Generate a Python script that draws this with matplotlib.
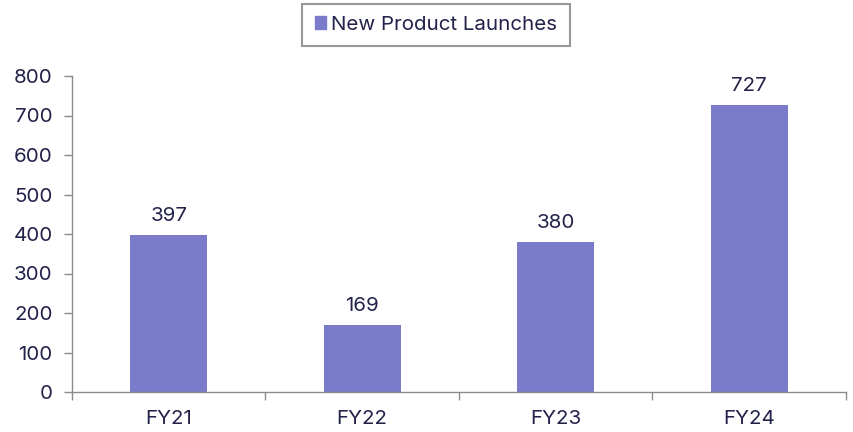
import matplotlib
matplotlib.use("Agg")
import matplotlib.pyplot as plt
from matplotlib.patches import Patch

categories = ["FY21", "FY22", "FY23", "FY24"]
values = [397, 169, 380, 727]
series_name = "New Product Launches"

plt.rcParams['font.family'] = ['Inter', 'DejaVu Sans']
txt = "#22224a"
bar_color = "#7b7bcc"
axis_color = "#8c8c8c"
fs = 14.8

fig = plt.figure(figsize=(8.54, 4.32), dpi=100)
ax = fig.add_axes([72/854, 1-392/432, (846-72)/854, (392-76)/432])

x = list(range(len(categories)))
bars = ax.bar(x, values, width=0.4, color=bar_color, zorder=2)
for xi, v in zip(x, values):
    ax.text(xi, v + 26, str(v), ha="center", va="bottom", fontsize=fs, color=txt)

ax.set_xlim(-0.5, len(categories) - 0.5)
ax.set_ylim(0, 800)
ax.set_yticks(range(0, 801, 100))
ax.set_xticks(x)
ax.set_xticklabels(categories)
ax.set_xticks([i - 0.5 for i in range(len(categories) + 1)], minor=True)
ax.tick_params(axis="x", which="major", length=0, pad=13, labelsize=fs, labelcolor=txt)
ax.tick_params(axis="x", which="minor", length=6, color=axis_color, width=1)
ax.tick_params(axis="y", length=6, color=axis_color, width=1, pad=8, labelsize=fs, labelcolor=txt)
for s in ["top", "right"]:
    ax.spines[s].set_visible(False)
for s in ["left", "bottom"]:
    ax.spines[s].set_color(axis_color)
    ax.spines[s].set_linewidth(1)

leg = fig.legend(handles=[Patch(color=bar_color, label=series_name)],
                 loc="center", bbox_to_anchor=(436/854, 1-25/432),
                 frameon=True, fancybox=False, fontsize=fs,
                 handlelength=0.55, handleheight=0.6, handletextpad=0.25,
                 borderpad=0.6, borderaxespad=0, labelcolor=txt)
leg.get_frame().set_edgecolor("#7f7f7f")
leg.get_frame().set_linewidth(1.5)
for t in leg.get_texts():
    t.set_color(txt)

fig.savefig("out.png", dpi=100)
